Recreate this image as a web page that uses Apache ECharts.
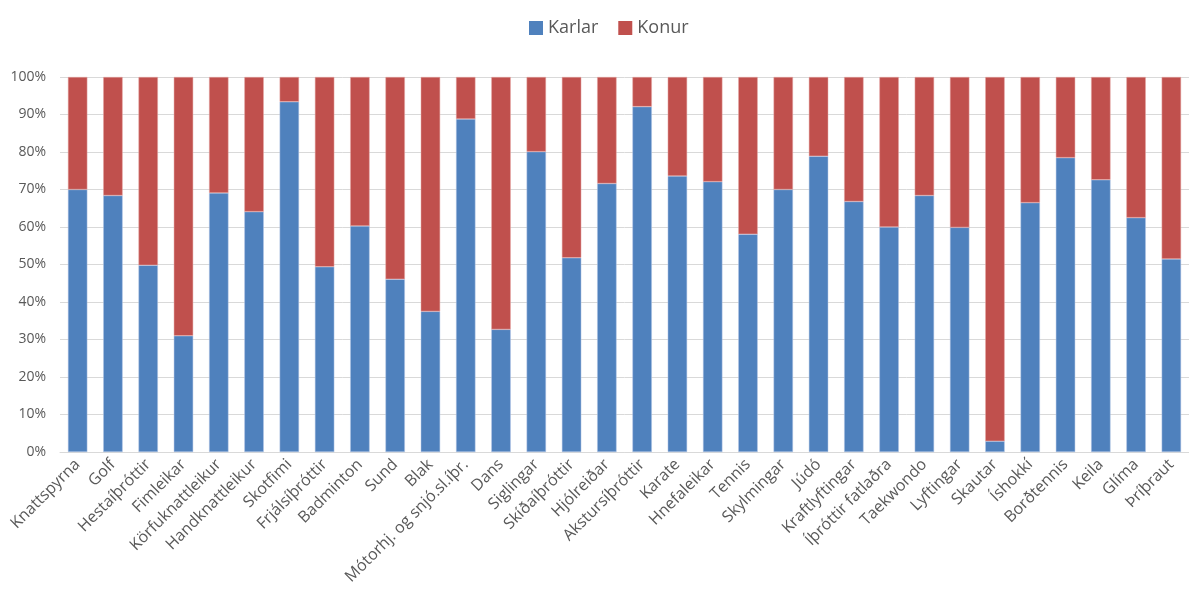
<!DOCTYPE html>
<html>
<head>
<meta charset="utf-8">
<script src="https://cdn.jsdelivr.net/npm/echarts@6/dist/echarts.min.js"></script>
<style>
html, body { margin: 0; padding: 0; background: #fff; }
#chart { width: 1189px; height: 597px; }
</style>
</head>
<body>
<div id="chart"></div>
<script>
var categories = ['Knattspyrna', 'Golf', 'Hestaíþróttir', 'Fimleikar', 'Körfuknattleikur', 'Handknattleikur',
    'Skotfimi', 'Frjálsíþróttir', 'Badminton', 'Sund', 'Blak', 'Mótorhj. og snjó.sl.íþr.', 'Dans', 'Siglingar',
    'Skíðaíþróttir', 'Hjólreiðar', 'Akstursíþróttir', 'Karate', 'Hnefaleikar', 'Tennis', 'Skylmingar', 'Júdó',
    'Kraftlyftingar', 'Íþróttir fatlaðra', 'Taekwondo', 'Lyftingar', 'Skautar', 'Íshokkí', 'Borðtennis', 'Keila',
    'Glíma', 'Þríþraut'];

// hlutfall karla (%)
var karlar = [70.0, 68.4, 49.8, 31.0, 69.1, 64.1, 93.4, 49.4, 60.3, 46.1, 37.5, 88.8, 32.7, 80.1, 51.8, 71.6,
    92.1, 73.6, 72.1, 58.1, 70.0, 78.9, 66.8, 60.0, 68.4, 59.9, 2.9, 66.5, 78.5, 72.6, 62.5, 51.5];
// hlutfall kvenna (%)
var konur = [30.0, 31.6, 50.2, 69.0, 30.9, 35.9, 6.6, 50.6, 39.7, 53.9, 62.5, 11.2, 67.3, 19.9, 48.2, 28.4,
    7.9, 26.4, 27.9, 41.9, 30.0, 21.1, 33.2, 40.0, 31.6, 40.1, 97.1, 33.5, 21.5, 27.4, 37.5, 48.5];

var yTicks = [0, 10, 20, 30, 40, 50, 60, 70, 80, 90, 100];

var textColor = '#595959';

option = {
    animation: false,
    textStyle: { fontFamily: 'Open Sans' },
    legend: {
        top: 14,
        left: 524,
        itemWidth: 14,
        itemHeight: 14,
        itemGap: 20,
        icon: 'rect',
        itemStyle: { borderWidth: 0 },
        textStyle: { fontSize: 18, color: textColor },
        data: ['Karlar', 'Konur']
    },
    grid: {
        left: 60,
        right: -7,
        top: 77,
        bottom: 145
    },
    xAxis: {
        type: 'category',
        data: categories,
        axisLine: { lineStyle: { color: '#d9d9d9', width: 1 } },
        axisTick: { show: false },
        axisLabel: {
            interval: 0,
            rotate: 45,
            fontSize: 16,
            color: textColor,
            margin: 10
        }
    },
    yAxis: {
        type: 'value',
        min: yTicks[0],
        max: yTicks[yTicks.length - 1],
        interval: 10,
        axisLine: { show: false },
        axisTick: { show: false },
        axisLabel: {
            fontSize: 14,
            color: textColor,
            margin: 14,
            formatter: '{value}%'
        },
        splitLine: { lineStyle: { color: '#d9d9d9', width: 1 } }
    },
    series: [
        {
            name: 'Karlar',
            type: 'bar',
            stack: 'total',
            barCategoryGap: '45%',
            itemStyle: { color: '#4f81bd', borderColor: '#b4c7e7', borderWidth: 0.5 },
            data: karlar
        },
        {
            name: 'Konur',
            type: 'bar',
            stack: 'total',
            barCategoryGap: '45%',
            itemStyle: { color: '#c0504d', borderColor: '#e6a9a7', borderWidth: 0.5 },
            data: konur
        }
    ]
};

var myChart = echarts.init(document.getElementById('chart'));
myChart.setOption(option);
</script>
</body>
</html>
